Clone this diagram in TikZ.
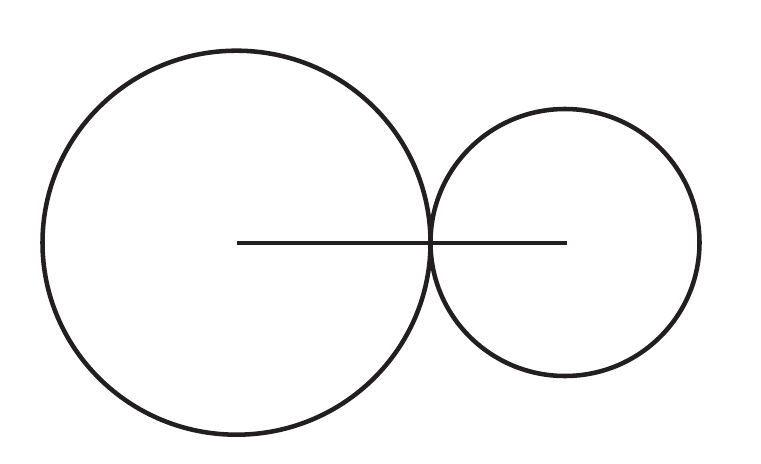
\documentclass[tikz,border=0pt]{standalone}
\usetikzlibrary{shapes.geometric}
\definecolor{ink}{HTML}{231F20}
\begin{document}
\begin{tikzpicture}[x=0.75pt,y=-0.75pt,
  stroke/.style={draw=ink,line width=3.4pt},
  ring/.style={stroke,ellipse,inner sep=0pt,outer sep=0pt}]
\useasboundingbox (0,0) rectangle (761,464);
\node[ring,minimum width=388*0.75pt,minimum height=384*0.75pt] (big) at (236.5,242.7) {};
\node[ring,minimum width=269*0.75pt,minimum height=267*0.75pt] (small) at (565,242.5) {};
\coordinate (c1) at (236.7,243);
\coordinate (c2) at (567,243);
\draw[stroke,line width=3.5pt] (c1) -- (c2);
\end{tikzpicture}
\end{document}
